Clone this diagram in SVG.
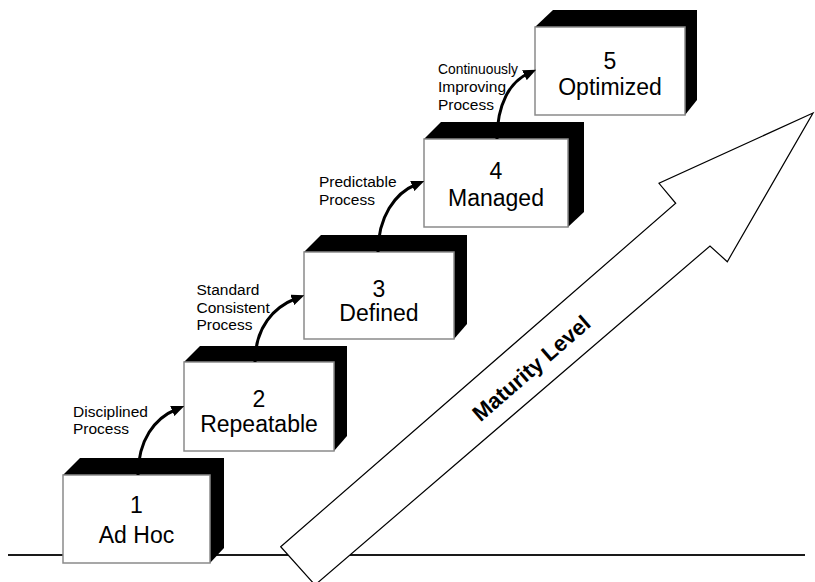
<svg xmlns="http://www.w3.org/2000/svg" width="815" height="582" viewBox="0 0 815 582">
<style>
.bg{fill:#ffffff}
.ground{stroke:#1a1a1a;stroke-width:2;fill:none}
.big{fill:#ffffff;stroke:#000000;stroke-width:1.2;stroke-linejoin:miter}
.side{fill:#000000}
.face{fill:#ffffff;stroke:#8a8a8a;stroke-width:1.5}
.name{font-family:"Liberation Sans",Arial,sans-serif;font-size:23px;fill:#000000;text-anchor:middle}
.lbl{font-family:"Liberation Sans",Arial,sans-serif;font-size:15.5px;fill:#000000}
.mat{font-family:"Liberation Sans",Arial,sans-serif;font-size:22px;font-weight:bold;fill:#000000;text-anchor:middle}
.conn{fill:none;stroke:#000000;stroke-width:3}
</style>
<defs>
<marker id="ah" markerUnits="userSpaceOnUse" markerWidth="13" markerHeight="11" refX="4" refY="5.5" orient="auto">
<path d="M0,0 L13,5.5 L0,11 z" fill="#000000"/>
</marker>
</defs>
<rect class="bg" x="0" y="0" width="815" height="582"/>
<path class="ground" d="M8,555 H805"/>
<g id="maturity-arrow">
<polygon class="big" points="280.7,546.7 675.7,203.3 659,183.3 813,113 727.3,261.7 710,246 315,585"/>
<text class="mat" transform="translate(531,368) rotate(-41)" x="0" y="8">Maturity Level</text>
</g>
<g id="level1">
<polygon class="side" points="63,475 80,458 224,458 224,548 210,563"/>
<rect class="face" x="63" y="475" width="147" height="88"/>
<text class="name" x="136.5" y="513">1</text>
<text class="name" x="136.5" y="543">Ad Hoc</text>
</g>
<g id="level2">
<polygon class="side" points="184,362 200,346 347,346 347,436 334,451"/>
<rect class="face" x="184" y="362" width="150" height="89"/>
<text class="name" x="259" y="407">2</text>
<text class="name" x="259" y="431.5">Repeatable</text>
</g>
<g id="level3">
<polygon class="side" points="304,252 321,235 467,235 467,324 454,339"/>
<rect class="face" x="304" y="252" width="150" height="87"/>
<text class="name" x="379" y="297">3</text>
<text class="name" x="379" y="320.5">Defined</text>
</g>
<g id="level4">
<polygon class="side" points="424,139 441,122 584,122 584,212 568,227"/>
<rect class="face" x="424" y="139" width="144" height="88"/>
<text class="name" x="496" y="179">4</text>
<text class="name" x="496" y="206">Managed</text>
</g>
<g id="level5">
<polygon class="side" points="535,27 553,10 697,10 697,100 685,115"/>
<rect class="face" x="535" y="27" width="150" height="88"/>
<text class="name" x="610" y="69">5</text>
<text class="name" x="610" y="95">Optimized</text>
</g>
<g id="connectors">
<path class="conn" d="M138,475 C138,440 155,418 176,409.5" marker-end="url(#ah)"/>
<path class="conn" d="M255,362 C255,327 274,307 296,298.5" marker-end="url(#ah)"/>
<path class="conn" d="M378,252 C378,217 395,193 416,184.5" marker-end="url(#ah)"/>
<path class="conn" d="M497,139 C497,104 510,82 528,73.5" marker-end="url(#ah)"/>
</g>
<g id="labels">
<text class="lbl" x="73" y="416.5">Disciplined</text>
<text class="lbl" x="73" y="434">Process</text>
<text class="lbl" x="196.5" y="295">Standard</text>
<text class="lbl" x="196.5" y="312.5">Consistent</text>
<text class="lbl" x="196.5" y="330">Process</text>
<text class="lbl" x="319" y="187">Predictable</text>
<text class="lbl" x="319" y="205">Process</text>
<text class="lbl" x="438" y="74" textLength="80" lengthAdjust="spacingAndGlyphs">Continuously</text>
<text class="lbl" x="438" y="92">Improving</text>
<text class="lbl" x="438" y="110">Process</text>
</g>
</svg>
